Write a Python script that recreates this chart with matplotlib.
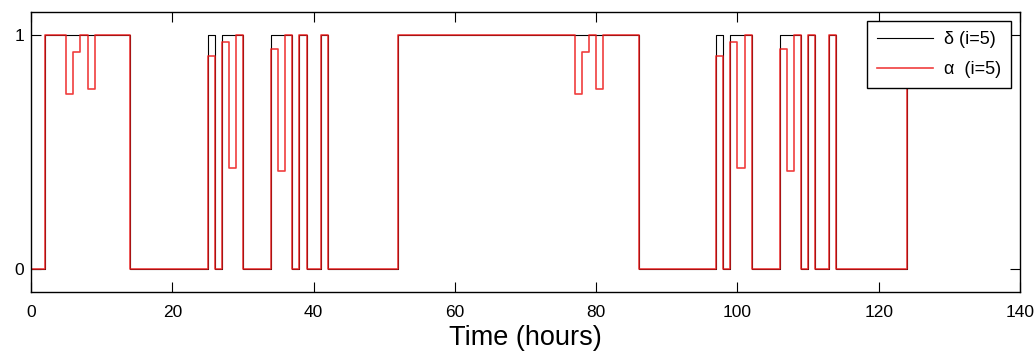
import matplotlib
matplotlib.use("Agg")
import matplotlib.pyplot as plt

plt.rcParams["font.family"] = ["Liberation Sans", "DejaVu Sans"]

# Switch times (hours) and step values
t_hours = [0, 2, 5, 6, 7, 8, 9, 14, 25, 26, 27, 28, 29, 30, 34, 35, 36, 37, 38, 39,
           41, 42, 52, 77, 78, 79, 80, 81, 86, 97, 98, 99, 100, 101, 102, 106, 107,
           108, 109, 110, 111, 113, 114, 124, 126]
delta_i5 = [0, 1, 1, 1, 1, 1, 1, 0, 1, 0, 1, 1, 1, 0, 1, 1, 1, 0, 1, 0,
            1, 0, 1, 1, 1, 1, 1, 1, 0, 1, 0, 1, 1, 1, 0, 1, 1,
            1, 0, 1, 0, 1, 0, 1, 1]
alpha_i5 = [0, 1, 0.75, 0.93, 1, 0.77, 1, 0, 0.91, 0, 0.97, 0.43, 1, 0, 0.94, 0.42, 1, 0, 1, 0,
            1, 0, 1, 0.75, 0.93, 1, 0.77, 1, 0, 0.91, 0, 0.97, 0.43, 1, 0, 0.94, 0.42,
            1, 0, 1, 0, 1, 0, 1, 1]

x_ticks = [0, 20, 40, 60, 80, 100, 120, 140]
y_ticks = [0, 1]

fig = plt.figure(figsize=(10.35, 3.52), dpi=100)
ax = fig.add_axes([0.030, 0.170, 0.9555, 0.796])

ax.plot(t_hours, delta_i5, drawstyle="steps-post", color="black", lw=0.8,
        label="δ (i=5)")
ax.plot(t_hours, alpha_i5, drawstyle="steps-post", color="#ee1c1c", lw=1.2, alpha=0.85,
        label="α  (i=5)")

ax.set_xlim(0, 140)
ax.set_ylim(-0.1, 1.1)
ax.set_xticks(x_ticks)
ax.set_yticks(y_ticks)
ax.tick_params(direction="in", length=7, width=0.8, labelsize=12.5,
               top=True, right=True, pad=9)
ax.tick_params(axis="y", pad=5)
for s in ax.spines.values():
    s.set_linewidth(1.0)

ax.set_xlabel("Time (hours)", fontsize=19.5, labelpad=4)

leg = ax.legend(loc="upper right", fontsize=13, fancybox=False, framealpha=1,
                edgecolor="black", handlelength=3.1, handletextpad=0.6,
                borderaxespad=0.5, labelspacing=0.75, borderpad=0.55)
leg.get_frame().set_linewidth(1.0)

fig.savefig("out.png", dpi=100)
